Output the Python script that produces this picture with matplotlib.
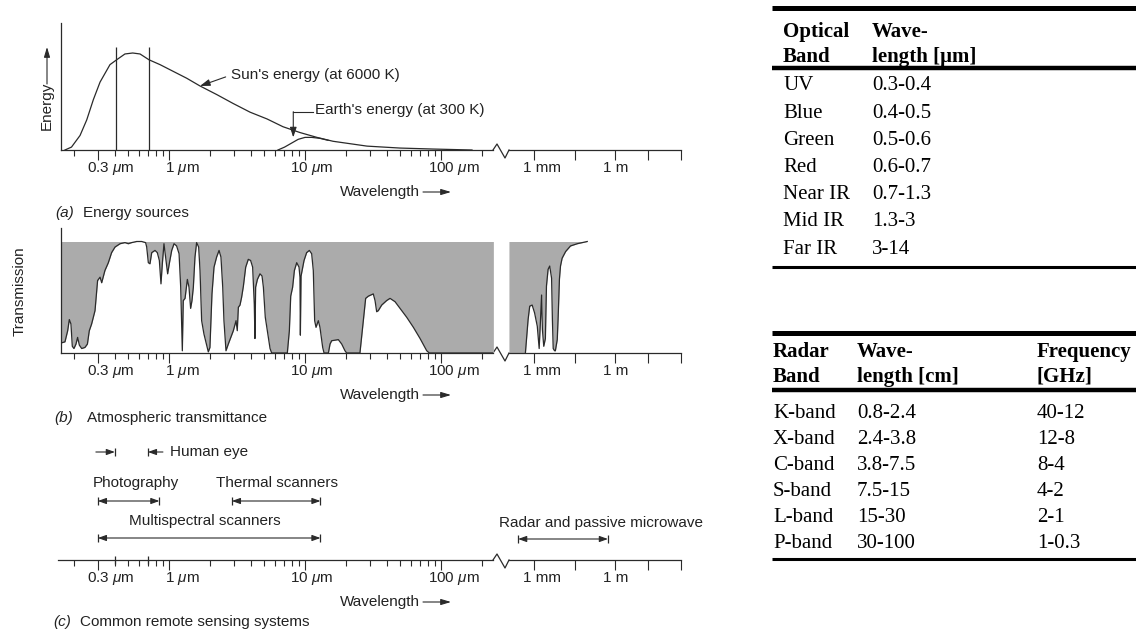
import numpy as np
import matplotlib.pyplot as plt
from matplotlib.ticker import LogLocator, NullFormatter, FixedLocator

W, H = 1136, 630
plt.rcParams['font.family'] = ['Liberation Sans', 'DejaVu Sans']
plt.rcParams['mathtext.fontset'] = 'custom'
plt.rcParams['mathtext.it'] = 'Liberation Sans:italic'
plt.rcParams['mathtext.rm'] = 'Liberation Sans'

# ---- data ----
# (a) energy curves, x = log10(wavelength in um), y = relative energy
sun_log_wl = [-0.765, -0.717, -0.654, -0.605, -0.556, -0.507, -0.434, -0.385, -0.324, -0.267,
              -0.213, -0.147, -0.066, 0.032, 0.130, 0.228, 0.353, 0.471, 0.596, 0.721,
              0.838, 0.963, 1.088, 1.206, 1.456, 1.699, 1.941, 2.228]
sun_energy = [0.0, 0.03, 0.15, 0.31, 0.52, 0.70, 0.88, 0.93, 0.99, 1.0,
              0.99, 0.93, 0.88, 0.81, 0.74, 0.66, 0.57, 0.48, 0.39, 0.32,
              0.24, 0.18, 0.13, 0.09, 0.04, 0.02, 0.01, 0.0]
earth_log_wl = [0.801, 0.85, 0.90, 0.95, 1.0, 1.05, 1.11, 1.17]
earth_energy = [0.0, 0.03, 0.07, 0.11, 0.13, 0.13, 0.12, 0.10]
visible_lines_um = [0.41, 0.71]

# (b) atmospheric transmission, x = log10(wavelength in um)
trans_log_wl = [-0.794, -0.765, -0.745, -0.733, -0.721, -0.711, -0.699, -0.684, -0.672, -0.659,
                -0.642, -0.618, -0.600, -0.586, -0.569, -0.544, -0.525, -0.507, -0.495, -0.471,
                -0.446, -0.422, -0.397, -0.360, -0.324, -0.299, -0.275, -0.238, -0.201, -0.172,
                -0.164, -0.152, -0.140, -0.127, -0.103, -0.086, -0.071, -0.059, -0.049, -0.037,
                -0.025, -0.010, 0.002, 0.020, 0.037, 0.056, 0.074, 0.086, 0.098, 0.105,
                0.118, 0.135, 0.147, 0.159, 0.169, 0.179, 0.191, 0.203, 0.218, 0.228,
                0.240, 0.257, 0.277, 0.289, 0.301, 0.316, 0.331, 0.350, 0.368, 0.382,
                0.395, 0.404, 0.419, 0.436, 0.473, 0.493, 0.502, 0.510, 0.522, 0.534,
                0.547, 0.564, 0.583, 0.600, 0.615, 0.627, 0.632, 0.637, 0.650, 0.669,
                0.684, 0.694, 0.708, 0.723, 0.743, 0.755, 0.870, 0.885, 0.895, 0.909,
                0.922, 0.939, 0.956, 0.963, 0.966, 0.971, 0.993, 1.012, 1.032, 1.049,
                1.061, 1.071, 1.081, 1.098, 1.110, 1.123, 1.130, 1.140, 1.172, 1.184,
                1.196, 1.245, 1.270, 1.294, 1.306, 1.404, 1.429, 1.446, 1.466, 1.502,
                1.515, 1.527, 1.539, 1.564, 1.600, 1.625, 1.662, 1.699, 1.748, 1.797,
                1.846, 1.895, 1.914, 2.385]
trans_value = [0.09, 0.10, 0.20, 0.30, 0.26, 0.06, 0.04, 0.08, 0.14, 0.07,
               0.04, 0.05, 0.08, 0.20, 0.26, 0.38, 0.65, 0.68, 0.63, 0.74,
               0.81, 0.90, 0.95, 0.98, 0.99, 0.98, 0.99, 1.0, 1.0, 0.99,
               0.95, 0.81, 0.80, 0.90, 0.92, 0.90, 0.83, 0.62, 0.80, 0.98,
               0.86, 0.71, 0.80, 0.92, 0.98, 0.96, 0.89, 0.59, 0.02, 0.47,
               0.49, 0.66, 0.59, 0.40, 0.47, 0.59, 0.86, 0.99, 0.95, 0.74,
               0.29, 0.17, 0.07, 0.01, 0.05, 0.53, 0.77, 0.86, 0.92, 0.86,
               0.59, 0.29, 0.02, 0.08, 0.20, 0.29, 0.20, 0.41, 0.43, 0.50,
               0.60, 0.77, 0.84, 0.83, 0.77, 0.44, 0.13, 0.59, 0.66, 0.71,
               0.69, 0.59, 0.32, 0.20, 0.04, 0.0, 0.0, 0.20, 0.51, 0.59,
               0.74, 0.81, 0.77, 0.68, 0.16, 0.69, 0.83, 0.90, 0.92, 0.89,
               0.74, 0.29, 0.23, 0.29, 0.23, 0.11, 0.05, 0.0, 0.0, 0.08,
               0.11, 0.12, 0.08, 0.02, 0.0, 0.0, 0.29, 0.49, 0.51, 0.53,
               0.47, 0.37, 0.38, 0.43, 0.47, 0.49, 0.46, 0.40, 0.32, 0.23,
               0.13, 0.02, 0.0, 0.0]
# microwave part, x = log10(wavelength in m)
trans_mm_log_m = [-3.91, -3.30, -3.20, -3.14, -3.05, -2.96, -2.86, -2.79, -2.74, -2.70,
                  -2.67, -2.62, -2.56, -2.52, -2.46, -2.40, -2.33, -2.30, -2.27, -2.22,
                  -2.19, -2.12, -2.09, -2.06, -2.04, -2.00, -1.94, -1.81, -1.63, -1.38,
                  -1.01]
trans_mm_value = [0.0, 0.0, 0.30, 0.42, 0.43, 0.36, 0.24, 0.04, 0.30, 0.52,
                  0.21, 0.06, 0.13, 0.60, 0.75, 0.78, 0.67, 0.30, 0.04, 0.02,
                  0.02, 0.12, 0.30, 0.51, 0.66, 0.78, 0.85, 0.91, 0.96, 0.98,
                  1.0]

# (c) sensing systems, wavelength ranges in um
human_eye_um = (0.4, 0.7)
systems = ['Photography', 'Thermal scanners', 'Multispectral scanners']
system_lo_um = [0.3, 2.9, 0.3]
system_hi_um = [0.85, 13, 13]
radar_system = 'Radar and passive microwave'
radar_range_m = (2.7e-4, 0.57)

major_um = [0.3, 1, 10, 100]
major_um_labels = ['0.3 $\\mu$m', '1 $\\mu$m', '10 $\\mu$m', '100 $\\mu$m']

# tables
optical_bands = ['UV', 'Blue', 'Green', 'Red', 'Near IR', 'Mid IR', 'Far IR']
optical_wl = ['0.3-0.4', '0.4-0.5', '0.5-0.6', '0.6-0.7', '0.7-1.3', '1.3-3', '3-14']
radar_bands = ['K-band', 'X-band', 'C-band', 'S-band', 'L-band', 'P-band']
radar_wl = ['0.8-2.4', '2.4-3.8', '3.8-7.5', '7.5-15', '15-30', '30-100']
radar_freq = ['40-12', '12-8', '8-4', '4-2', '2-1', '1-0.3']

LINE = '#2a2a2a'
TXT = '#222222'
GRAY = '#ababab'

fig = plt.figure(figsize=(W / 100, H / 100), dpi=100)

# overlay in pixel coordinates (y down) for labels and decorations
ov = fig.add_axes([0, 0, 1, 1])
ov.set_xlim(0, W)
ov.set_ylim(H, 0)
ov.axis('off')


def px_to_um(px):
    return 10 ** ((px - 169) / 136)


def px_to_m(px):
    return 10 ** (-3 + (px - 533.5) / 27)


def add_ax(x0, y0, x1, y1):
    ax = fig.add_axes([x0 / W, 1 - y1 / H, (x1 - x0) / W, (y1 - y0) / H])
    ax.patch.set_visible(False)
    for s in ax.spines.values():
        s.set_visible(False)
    ax.spines['bottom'].set_visible(True)
    ax.spines['bottom'].set_color(LINE)
    ax.spines['bottom'].set_linewidth(0.9)
    ax.set_yticks([])
    return ax


def arrow(ax, x0, y0, x1, y1, hl=0.5, hw=0.2, ms=10, style='-|>'):
    ax.annotate('', xy=(x1, y1), xytext=(x0, y0), annotation_clip=False,
                arrowprops=dict(arrowstyle=f'{style},head_length={hl},head_width={hw}',
                                color=LINE, lw=0.8, shrinkA=0, shrinkB=0,
                                mutation_scale=ms))


def wave_axes(x0, top, base):
    left = add_ax(x0, top, 493, base)
    left.set_xscale('log')
    left.set_xlim(px_to_um(x0), px_to_um(493))
    left.xaxis.set_major_locator(FixedLocator(major_um))
    left.xaxis.set_minor_locator(LogLocator(base=10, subs=np.arange(2, 10)))
    left.xaxis.set_major_formatter(NullFormatter())
    left.xaxis.set_minor_formatter(NullFormatter())
    left.tick_params(which='major', length=7, width=0.8, color=LINE, direction='out')
    left.tick_params(which='minor', length=4, width=0.8, color=LINE, direction='out')
    for t, lab, dx in zip(major_um, major_um_labels, [-7.8, -3.0, -11, -9.2]):
        left.annotate(lab, xy=(t, 0), xycoords=('data', 'axes fraction'),
                      xytext=(dx, -13), textcoords='offset points',
                      ha='left', va='center', fontsize=11, color=TXT)

    right = add_ax(509, top, 681, base)
    right.set_xscale('log')
    right.set_xlim(px_to_m(509), px_to_m(681))
    right.xaxis.set_major_locator(FixedLocator([px_to_m(p) for p in [533.5, 574.5, 614.5, 647.5, 680.5]]))
    right.xaxis.set_minor_locator(FixedLocator([]))
    right.xaxis.set_major_formatter(NullFormatter())
    right.tick_params(which='major', length=7, width=0.8, color=LINE, direction='out')
    for t, lab, dx in [(1e-3, '1 mm', -7.6), (1.0, '1 m', -8.3)]:
        right.annotate(lab, xy=(t, 0), xycoords=('data', 'axes fraction'),
                       xytext=(dx, -13), textcoords='offset points',
                       ha='left', va='center', fontsize=11, color=TXT)

    # axis break zigzag
    ov.plot([493, 497, 505, 509], [base, base - 6, base + 8, base], color=LINE, lw=0.9)
    # wavelength label
    ov.text(340, base + 42, 'Wavelength', ha='left', va='center', fontsize=11, color=TXT)
    arrow(ov, 423, base + 42, 451, base + 42, hl=0.6, hw=0.18)
    return left, right


def panel_label(x, y, tag, text, gap):
    ov.text(x, y, tag, ha='left', va='center', fontsize=11, style='italic', color=TXT)
    ov.text(x + gap, y, text, ha='left', va='center', fontsize=11, color=TXT)


# ---- (a) energy sources ----
a_l, a_r = wave_axes(61, 23, 150)
a_l.spines['left'].set_visible(True)
a_l.spines['left'].set_color(LINE)
a_l.spines['left'].set_linewidth(0.9)
a_l.set_ylim(0, 127 / 97)
a_r.set_ylim(0, 127 / 97)
a_l.plot(10 ** np.array(sun_log_wl), sun_energy, color=LINE, lw=0.9)
a_l.plot(10 ** np.array(earth_log_wl), earth_energy, color=LINE, lw=0.9)
a_l.vlines(visible_lines_um, 0, 1.06, color=LINE, lw=0.9)
a_l.annotate("Sun's energy (at 6000 K)", xy=(1.69, 0.66), xytext=(2.86, 0.773),
             ha='left', va='center', fontsize=11, color=TXT,
             arrowprops=dict(arrowstyle='-|>,head_length=0.6,head_width=0.2', color=LINE,
                             lw=0.8, relpos=(0, 0.5), shrinkA=2, shrinkB=0, mutation_scale=10))
a_l.text(11.85, 0.41, "Earth's energy (at 300 K)", ha='left', va='center', fontsize=11, color=TXT)
a_l.plot([8.2, 11.4], [0.395, 0.395], color=LINE, lw=0.8)
arrow(a_l, 8.2, 0.395, 8.2, 0.13, hl=0.6, hw=0.2)
ov.text(47, 106, 'Energy', rotation=90, ha='center', va='center', fontsize=11, color=TXT)
arrow(ov, 47, 84, 47, 47, hl=0.6, hw=0.18)
panel_label(55, 213, '(a)', 'Energy sources', 28)

# ---- (b) atmospheric transmittance ----
b_l, b_r = wave_axes(61, 228, 353)
b_l.spines['left'].set_visible(True)
b_l.spines['left'].set_color(LINE)
b_l.spines['left'].set_linewidth(0.9)
b_l.set_ylim(0, 125 / 111.5)
b_r.set_ylim(0, 125 / 111.5)
wl = 10 ** np.array(trans_log_wl)
b_l.fill_between(wl, trans_value, 1, color=GRAY, lw=0)
b_l.plot(wl, trans_value, color=LINE, lw=0.9)
wl_m = 10 ** np.array(trans_mm_log_m)
b_r.fill_between(wl_m, trans_mm_value, 1, color=GRAY, lw=0)
b_r.plot(wl_m[1:], trans_mm_value[1:], color=LINE, lw=0.9)
ov.text(20, 291, 'Transmission', rotation=90, ha='center', va='center', fontsize=11, color=TXT)
panel_label(54, 418, '(b)', 'Atmospheric transmittance', 33)

# ---- (c) common remote sensing systems ----
c_l, c_r = wave_axes(58, 440, 560)
c_l.set_ylim(0, 120)
c_r.set_ylim(0, 120)
c_l.vlines(list(human_eye_um), -4, 4, color=LINE, lw=0.9, clip_on=False)


def range_bar(ax, lo, hi, y):
    arrow(ax, lo, y, hi, y, hl=0.5, hw=0.18, style='<|-|>')
    ax.vlines([lo, hi], y - 4, y + 4, color=LINE, lw=0.9)


eye_y = 108
lo, hi = human_eye_um
c_l.vlines([lo, hi], eye_y - 4, eye_y + 4, color=LINE, lw=0.9)
arrow(c_l, lo / 10 ** (19 / 136), eye_y, lo, eye_y, hl=0.5, hw=0.18)
arrow(c_l, hi * 10 ** (15 / 136), eye_y, hi, eye_y, hl=0.5, hw=0.18)
ov.text(170, 452, 'Human eye', ha='left', va='center', fontsize=11, color=TXT)

rows = [59, 59, 22]
text_pos = [(93, 483), (216, 483), (129, 521)]
for name, lo, hi, y, (tx, ty) in zip(systems, system_lo_um, system_hi_um, rows, text_pos):
    range_bar(c_l, lo, hi, y)
    ov.text(tx, ty, name, ha='left', va='center', fontsize=11, color=TXT)
range_bar(c_r, radar_range_m[0], radar_range_m[1], 21)
ov.text(499, 523, radar_system, ha='left', va='center', fontsize=11, color=TXT)
panel_label(53, 622, '(c)', 'Common remote sensing systems', 27)

# ---- tables ----
SERIF = 'Liberation Serif'


def hline(y, lw):
    ov.plot([772, W], [y, y], color='black', lw=lw, solid_capstyle='butt')


def cell(x, y, s, bold=False):
    ov.text(x, y + 2, s, ha='left', va='center', fontsize=15, family=SERIF,
            fontweight='bold' if bold else 'normal', color='black')


hline(8, 3.6)
cell(783, 30, 'Optical', True)
cell(783, 55, 'Band', True)
cell(872, 30, 'Wave-', True)
cell(872, 55, 'length [\u03bcm]', True)
hline(68, 3.2)
for i, (b, w) in enumerate(zip(optical_bands, optical_wl)):
    y = 84 + i * 27.2
    cell(783, y, b)
    cell(872, y, w)
hline(267, 2.2)

hline(333, 3.6)
cell(773, 350, 'Radar', True)
cell(773, 375, 'Band', True)
cell(857, 350, 'Wave-', True)
cell(857, 375, 'length [cm]', True)
cell(1037, 350, 'Frequency', True)
cell(1037, 375, '[GHz]', True)
hline(390, 3.2)
for i, (b, w, f) in enumerate(zip(radar_bands, radar_wl, radar_freq)):
    y = 411 + i * 26.2
    cell(773, y, b)
    cell(857, y, w)
    cell(1037, y, f)
hline(559, 2.2)

fig.savefig('out.png', dpi=100)
